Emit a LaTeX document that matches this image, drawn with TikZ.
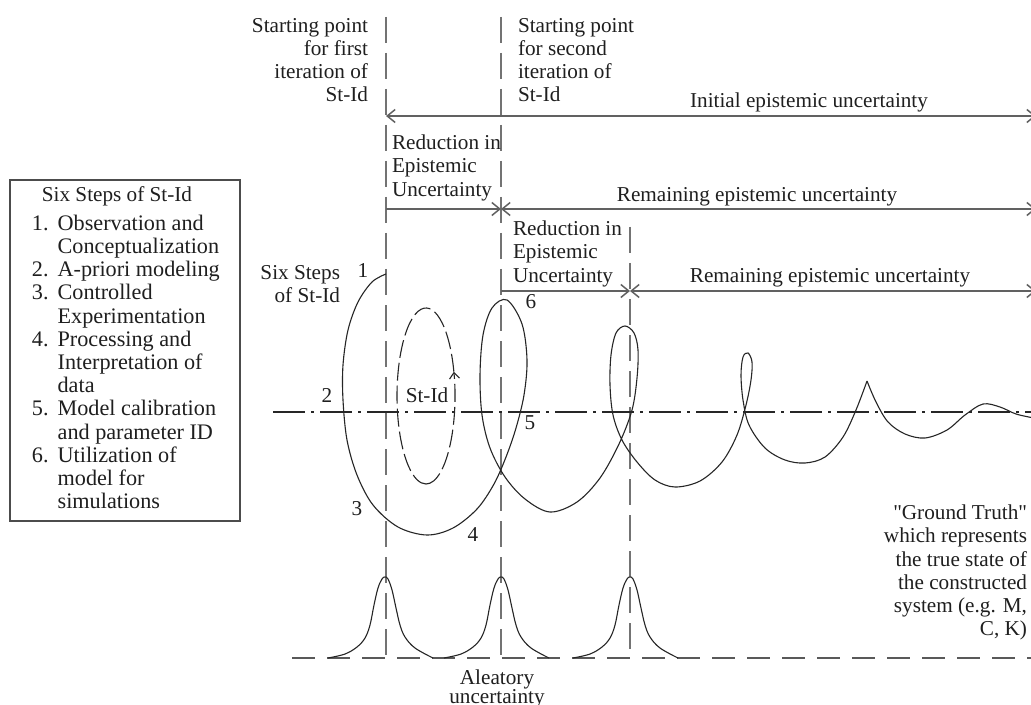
\documentclass[tikz,border=0pt]{standalone}
\usepackage{fontspec}
\setmainfont{Liberation Serif}[Ligatures=TeXOff]
\usetikzlibrary{arrows.meta,calc}
\begin{document}
\begin{tikzpicture}[x=0.5pt,y=-0.5pt,
  every node/.style={inner sep=0pt, outer sep=0pt, text=black!88, font=\fontsize{10.6}{11.6}\selectfont},
  vline/.style={draw=black!55, line width=0.6pt, dash pattern=on 13pt off 5pt},
  gline/.style={draw=black!65, line width=0.6pt, dash pattern=on 11.5pt off 6pt},
  mline/.style={draw=black!85, line width=0.55pt, dash pattern=on 16pt off 3pt on 1.5pt off 3pt},
  dimline/.style={draw=black!62, line width=0.75pt},
  barb/.tip={Straight Barb[length=4pt,width=6.5pt]},
  curve/.style={draw=black!85, line width=0.55pt},
  cyc/.style={draw=black!85, line width=0.55pt, dash pattern=on 9pt off 2.5pt},
  peak/.pic={\draw[curve] plot[smooth,tension=0.6] coordinates {(-57,0) (-40,-4) (-28,-11) (-20,-20) (-15,-33) (-11,-53) (-7,-70) (-3,-79) (0,-81) (3,-79) (7,-68) (11,-50) (15,-33) (20,-21) (30,-10) (48,0)};}
]
\fill[white] (0,0) rectangle (1031,705);
\useasboundingbox (0,0) rectangle (1031,705);

% vertical dashed lines
\coordinate (a1) at (386,17); \coordinate (b1) at (386,658);
\coordinate (a2) at (501,17); \coordinate (b2) at (501,658);
\coordinate (a3) at (630,227); \coordinate (b3) at (630,658);
\draw[vline] (a1) -- (b1);
\draw[vline] (a2) -- (b2);
\draw[vline] (a3) -- (b3);

% ground truth baseline and mean line
\coordinate (g0) at (292,658); \coordinate (g1) at (1031,658);
\draw[gline] (g0) -- (g1);
\coordinate (m0) at (273,412); \coordinate (m1) at (1031,412);
\draw[mline] (m0) -- (m1);

% dimension arrows
\coordinate (i0) at (386,116); \coordinate (i1) at (1036,116);
\draw[dimline, barb-barb] (i0) -- (i1);
\coordinate (r0) at (386,209); \coordinate (r1) at (501,209); \coordinate (e1) at (1036,209);
\draw[dimline, -barb] (r0) -- (r1);
\draw[dimline, barb-barb] (r1) -- (e1);
\coordinate (s0) at (501,291); \coordinate (s1) at (630,291); \coordinate (e2) at (1036,291);
\draw[dimline, -barb] (s0) -- (s1);
\draw[dimline, barb-barb] (s1) -- (e2);

% texts
\node[anchor=north east, align=right] (sp1) at (368,18) {Starting point\\for first\\iteration of\\St-Id};
\node[anchor=north west, align=left] (sp2) at (518,18) {Starting point\\for second\\iteration of\\St-Id};
\node[anchor=base] (init) at (809,108) {Initial epistemic uncertainty};
\node[anchor=north west, align=left] (red1) at (392,135) {Reduction in\\Epistemic\\Uncertainty};
\node[anchor=base] (rem1) at (757,202) {Remaining epistemic uncertainty};
\node[anchor=north west, align=left] (red2) at (513,221) {Reduction in\\Epistemic\\Uncertainty};
\node[anchor=base] (rem2) at (830,283) {Remaining epistemic uncertainty};
\node[anchor=north east, align=right] (six) at (340,265) {Six Steps\\of St-Id};
\node (n1) at (363,271) {1};
\node (n2) at (327,395) {2};
\node (n3) at (357,509) {3};
\node (n4) at (473,535) {4};
\node (n5) at (530,423) {5};
\node (n6) at (531,302) {6};
\node (stid) at (427,395) {St-Id};
\node[anchor=base] (al1) at (497,684) {Aleatory};
\node[anchor=base] (al2) at (497,703) {uncertainty};
\node[anchor=north east, align=right] (gt) at (1027,505) {"Ground Truth"\\which represents\\the true state of\\the constructed\\system (e.g. M,\\C, K)};

% legend box
\node[draw=black!70, line width=0.6pt, anchor=north west, minimum width=115pt, minimum height=170.5pt] (box) at (10,180) {};
\node[anchor=base] (title) at (117,202) {Six Steps of St-Id};
\node[anchor=north west, font=\fontsize{11.1}{11.6}\selectfont] (list) at (32,214) {\begin{tabular}{@{}r@{\hspace{4.5pt}}l@{}}1.&Observation and\\&Conceptualization\\2.&A-priori modeling\\3.&Controlled\\&Experimentation\\4.&Processing and\\&Interpretation of\\&data\\5.&Model calibration\\&and parameter ID\\6.&Utilization of\\&model for\\&simulations\end{tabular}};

% St-Id cycle
\coordinate (cc) at (426,396);
\draw[cyc, -{Straight Barb[length=3pt,width=5pt]}] ($(cc)+(0,-44pt)$) arc[start angle=-90, end angle=16, x radius=14.5pt, y radius=44pt];
\draw[cyc] ($(cc)+(16:14.5pt and 44pt)$) arc[start angle=16, end angle=270, x radius=14.5pt, y radius=44pt];

% main spiral curve
\draw[curve] plot[smooth, tension=0.55] coordinates {(386,274) (372,282) (358,302) (348,330) (343,365) (343,400) (347,440) (357,475) (373,505) (398,527) (427,535) (453,528) (477,509) (494,484) (506,457) (516,428) (524,395) (527,360) (522,324) (507,300) (492,308) (483,335) (480,375) (482,415) (490,448) (505,477) (525,499) (550,512) (577,502) (600,478) (619,444) (632,410) (637,378) (638,350) (634,333) (625,326) (616,333) (611,355) (610,385) (613,415) (622,440) (637,462) (655,480) (675,487) (700,481) (722,462) (737,435) (746,405) (751,380) (752,362) (748,353) (743,357) (741,375) (743,400) (749,425) (765,448) (785,460) (805,463) (825,457) (843,437) (856,410) (867,381)};
\draw[curve] plot[smooth, tension=0.55] coordinates {(867,381) (876,402) (888,422) (905,434) (925,438) (947,430) (965,415) (983,404) (1000,407) (1016,414) (1034,418)};

% aleatory peaks
\pic at (385,658) {peak};
\pic at (501,658) {peak};
\pic at (630,658) {peak};
\end{tikzpicture}
\end{document}
